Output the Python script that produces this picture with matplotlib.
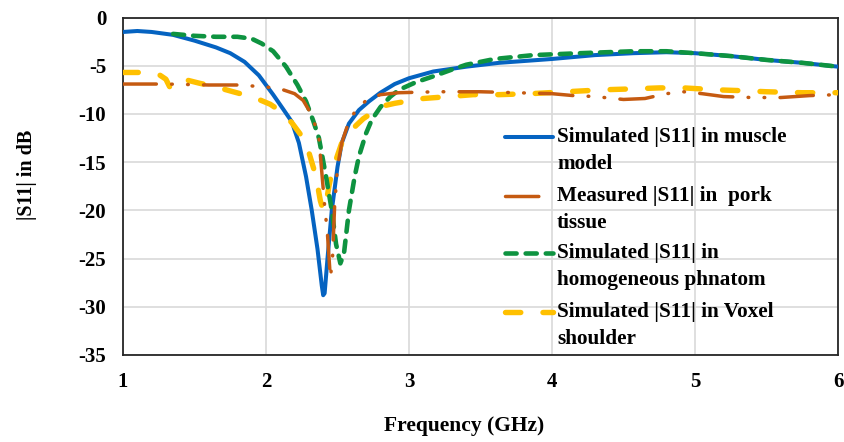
import matplotlib
matplotlib.use("Agg")
import matplotlib.pyplot as plt
from matplotlib.lines import Line2D

# ---------------- data ----------------
freq_muscle = [1.0, 1.1, 1.2, 1.35, 1.5, 1.65, 1.75, 1.85, 1.95, 2.05, 2.12, 2.18, 2.23,
               2.28, 2.32, 2.36, 2.39, 2.40, 2.41, 2.43, 2.46, 2.5, 2.53, 2.58, 2.65, 2.72,
               2.8, 2.9, 3.0, 3.17, 3.4, 3.63, 4.0, 4.3, 4.57, 4.8, 5.0, 5.25, 5.5, 5.75, 6.0]
s11_muscle = [-1.5, -1.4, -1.5, -1.8, -2.4, -3.1, -3.7, -4.6, -6.0, -8.0, -9.5, -10.8, -13.0,
              -16.5, -20.0, -24.0, -27.8, -28.8, -28.6, -25.0, -20.0, -15.5, -13.0, -11.0, -9.6, -8.7,
              -7.8, -6.9, -6.3, -5.6, -5.1, -4.7, -4.3, -3.9, -3.7, -3.6, -3.7, -4.0, -4.4, -4.7, -5.1]

freq_pork = [1.0, 1.3, 1.6, 1.8, 2.0, 2.1, 2.2, 2.26, 2.3, 2.34, 2.37, 2.39, 2.41, 2.43, 2.45,
             2.465, 2.48, 2.5, 2.53, 2.57, 2.62, 2.7, 2.8, 2.93, 3.2, 3.5, 3.75, 4.0, 4.15, 4.3,
             4.5, 4.65, 4.8, 4.92, 5.05, 5.2, 5.4, 5.6, 5.8, 6.0]
s11_pork = [-6.9, -6.9, -7.0, -7.0, -7.2, -7.4, -7.9, -8.6, -9.6, -11.0, -12.5, -16.0, -19.5, -22.5, -27.0,
            -25.0, -19.5, -15.5, -13.0, -11.2, -9.8, -8.6, -8.0, -7.8, -7.7, -7.7, -7.8, -7.9, -8.1, -8.2,
            -8.5, -8.4, -7.9, -7.7, -7.9, -8.2, -8.3, -8.3, -8.1, -8.0]

freq_phantom = [1.35, 1.5, 1.65, 1.8, 1.9, 1.97, 2.05, 2.14, 2.22, 2.28, 2.33, 2.37, 2.42, 2.46,
                2.49, 2.52, 2.545, 2.58, 2.62, 2.65, 2.7, 2.74, 2.8, 2.87, 2.93, 3.05, 3.17, 3.3,
                3.4, 3.6, 3.87, 4.2, 4.57, 4.8, 5.0, 5.25, 5.5, 5.75, 6.0]
s11_phantom = [-1.7, -1.9, -2.0, -2.0, -2.2, -2.7, -3.5, -5.1, -7.0, -8.7, -10.7, -12.5, -16.5, -20.0,
               -23.5, -25.5, -24.5, -20.0, -16.5, -14.4, -12.0, -10.6, -9.3, -8.2, -7.5, -6.7, -6.1, -5.4,
               -4.9, -4.3, -3.9, -3.7, -3.5, -3.5, -3.7, -4.0, -4.4, -4.7, -5.1]

freq_voxel = [1.0, 1.15, 1.25, 1.3, 1.33, 1.36, 1.39, 1.45, 1.53, 1.65, 1.77, 1.87, 1.95, 2.03,
              2.09, 2.18, 2.25, 2.3, 2.35, 2.38, 2.40, 2.42, 2.44, 2.46, 2.5, 2.53, 2.58, 2.63,
              2.68, 2.74, 2.81, 2.9, 2.98, 3.1, 3.28, 3.45, 3.63, 3.85, 4.1, 4.35, 4.57, 4.75,
              4.92, 5.15, 5.35, 5.5, 5.75, 6.0]
s11_voxel = [-5.7, -5.7, -5.9, -6.4, -7.3, -7.1, -6.6, -6.5, -6.8, -7.2, -7.7, -8.1, -8.5, -9.0,
             -9.6, -10.9, -12.3, -14.0, -16.5, -19.0, -20.0, -19.3, -17.5, -16.1, -14.3, -13.0, -12.0, -11.2,
             -10.5, -9.9, -9.2, -8.9, -8.7, -8.4, -8.2, -8.0, -8.0, -7.9, -7.7, -7.5, -7.4, -7.3,
             -7.3, -7.5, -7.6, -7.7, -7.8, -7.8]

legend_labels = [["Simulated |S11| in muscle", "model"],
                 ["Measured |S11| in  pork", "tissue"],
                 ["Simulated |S11| in", "homogeneous phnatom"],
                 ["Simulated |S11| in Voxel", "shoulder"]]
x_ticks = [1, 2, 3, 4, 5, 6]
y_ticks = [0, -5, -10, -15, -20, -25, -30, -35]

# ---------------- styles ----------------
plt.rcParams['font.family'] = ['Liberation Serif', 'DejaVu Serif']
plt.rcParams['font.weight'] = 'bold'
plt.rcParams['lines.scale_dashes'] = False

W, H = 844, 442
fig = plt.figure(figsize=(W / 100, H / 100), dpi=100)
ax = fig.add_axes([123 / W, 1 - 355 / H, (838 - 123) / W, (355 - 17.5) / H])

c_blue = '#0563C1'
c_orange = '#C55A11'
c_green = '#0E9340'
c_yellow = '#FFC000'

styles = [
    dict(color=c_blue, lw=2.9, ls='-', solid_capstyle='round'),
    dict(color=c_orange, lw=2.5, ls=(0, (24, 11, 0.5, 11, 0.5, 11)), dash_capstyle='round'),
    dict(color=c_green, lw=3.3, ls=(0, (8, 6.5)), dash_capstyle='round'),
    dict(color=c_yellow, lw=3.9, ls=(0, (11, 16)), dash_capstyle='round'),
]

series = [(freq_muscle, s11_muscle), (freq_pork, s11_pork),
          (freq_phantom, s11_phantom), (freq_voxel, s11_voxel)]
zorders = [3, 4, 3.5, 3.2]
for (xs, ys), st, z in zip(series, styles, zorders):
    ax.plot(xs, ys, zorder=z, **st)

ax.set_xlim(1, 6)
ax.set_ylim(-35, 0)
ax.set_xticks(x_ticks)
ax.set_yticks(y_ticks)
ax.set_xticklabels([str(v) for v in x_ticks], fontsize=15, fontweight='bold')
ax.set_yticklabels([str(v) for v in y_ticks], fontsize=15, fontweight='bold')
ax.tick_params(axis='both', length=0)
ax.tick_params(axis='y', pad=12)
ax.tick_params(axis='x', pad=12.5)
ax.grid(True, color='#d9d9d9', lw=1.2)
ax.set_axisbelow(True)
for sp in ax.spines.values():
    sp.set_color('#262626')
    sp.set_linewidth(1.3)

fig.text(464 / W, 1 - 426 / H, "Frequency (GHz)", ha='center', va='center',
         fontsize=15.5, fontweight='bold')
fig.text(27 / W, 1 - 175 / H, "|S11| in dB", ha='center', va='center',
         rotation=90, fontsize=14.5, fontweight='bold')

# ---------------- legend (drawn manually, handle aligned with first line) ----------------
first_rows = [137, 196, 253, 312]
line_gap = 27
for (l1, l2), st, yp in zip(legend_labels, styles, first_rows):
    yf = 1 - yp / H
    fig.add_artist(Line2D([505 / W, 553 / W], [yf, yf], transform=fig.transFigure, **st))
    fig.text(557 / W, yf, l1, ha='left', va='center', fontsize=15.3, fontweight='bold')
    fig.text(557 / W, 1 - (yp + line_gap) / H, l2, ha='left', va='center',
             fontsize=15.3, fontweight='bold')

fig.savefig("out.png", dpi=100)
